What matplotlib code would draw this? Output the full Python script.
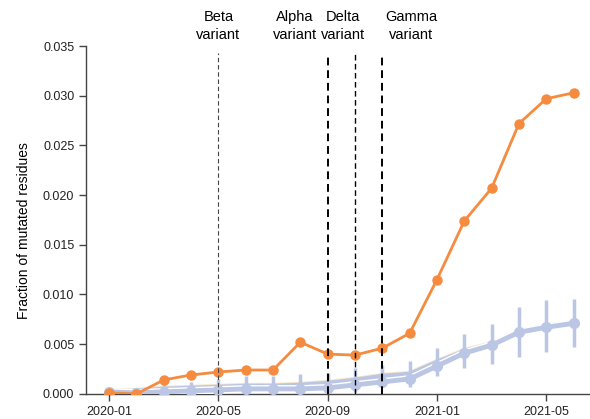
import matplotlib
matplotlib.use("Agg")
import matplotlib.pyplot as plt
import numpy as np

months = ["2020-01","2020-02","2020-03","2020-04","2020-05","2020-06","2020-07","2020-08","2020-09",
          "2020-10","2020-11","2020-12","2021-01","2021-02","2021-03","2021-04","2021-05","2021-06"]
observed = [0.0001, 0.0000, 0.0014, 0.0019, 0.0022, 0.0024, 0.0024, 0.0052, 0.0040,
            0.0039, 0.0046, 0.0061, 0.0115, 0.0174, 0.0207, 0.0272, 0.0297, 0.0303]
random_low = [0.0002, 0.0001, 0.0002, 0.0003, 0.0004, 0.0005, 0.0005, 0.0005, 0.0006,
              0.0009, 0.0012, 0.0015, 0.0028, 0.0041, 0.0049, 0.0062, 0.0067, 0.0071]
random_mean = [0.0002, 0.0003, 0.0005, 0.0006, 0.0007, 0.0008, 0.0008, 0.0009, 0.0011,
               0.0014, 0.0018, 0.0020, 0.0032, 0.0043, 0.0050, 0.0062, 0.0068, 0.0071]
random_err = [0.0001, 0.0002, 0.0005, 0.0006, 0.0008, 0.0010, 0.0010, 0.0011, 0.0010,
              0.0012, 0.0011, 0.0013, 0.0014, 0.0017, 0.0020, 0.0025, 0.0026, 0.0024]
tick_labels = ["2020-01", "2020-05", "2020-09", "2021-01", "2021-05"]
variant_names = ["Beta\nvariant", "Alpha\nvariant", "Delta\nvariant", "Gamma\nvariant"]
variant_months = ["2020-05", "2020-09", "2020-10", "2020-11"]
yticks = [0.000, 0.005, 0.010, 0.015, 0.020, 0.025, 0.030, 0.035]

plt.rcParams['font.family'] = ['Liberation Sans', 'DejaVu Sans']

fig = plt.figure(figsize=(5.9, 4.19), dpi=100)
ax = fig.add_axes([0.146, 0.06, 0.854, 0.83])

x = np.arange(len(months))
orange = '#F58B3F'
blue = '#BAC6E3'

ax.plot(x, random_mean, color='#F8E6D0', lw=4.5, zorder=1.5)
ax.errorbar(x, random_mean, yerr=random_err, color=blue, lw=3.2, elinewidth=2.5,
            capsize=0, zorder=2)
ax.plot(x, random_low, color='white', lw=5.5, zorder=2.8)
ax.plot(x, random_low, color=blue, lw=3.5, marker='o', ms=7, zorder=3)
ax.plot(x, observed, color=orange, lw=2, marker='o', ms=6.5, zorder=4)

styles = {"2020-05": ('#444444', 0.8, 0), "2020-09": ('black', 1.4, -23.8),
          "2020-10": ('black', 1.0, -8.6), "2020-11": ('black', 1.4, 20.9)}
for name, m in zip(variant_names, variant_months):
    xi = months.index(m)
    c, lw, off = styles[m]
    ax.axvline(xi, ymin=0, ymax=0.98, color=c, lw=lw, ls=(0, (4, 2.5)), zorder=5)
    ax.annotate(name, xy=(xi, 0.0357), xytext=(off, 0), textcoords='offset points',
                ha='center', va='baseline', fontsize=10.5, linespacing=1.37,
                annotation_clip=False)

ax.set_xlim(-0.84, 17.6)
ax.set_ylim(0, 0.035)
ax.set_xticks([months.index(t) for t in tick_labels])
ax.set_xticklabels(tick_labels, fontsize=9)
ax.set_yticks(yticks)
ax.set_yticklabels([f"{v:.3f}" for v in yticks], fontsize=9)
ax.set_ylabel("Fraction of mutated residues", fontsize=10)
ax.yaxis.set_label_coords(-0.11, 0.47)
for s in ['top', 'right']:
    ax.spines[s].set_visible(False)
for s in ['left', 'bottom']:
    ax.spines[s].set_color('#444444')
    ax.spines[s].set_linewidth(1.0)
ax.tick_params(colors='#444444', labelcolor='#222222', length=5, width=1)

fig.savefig("out.png", dpi=100)
